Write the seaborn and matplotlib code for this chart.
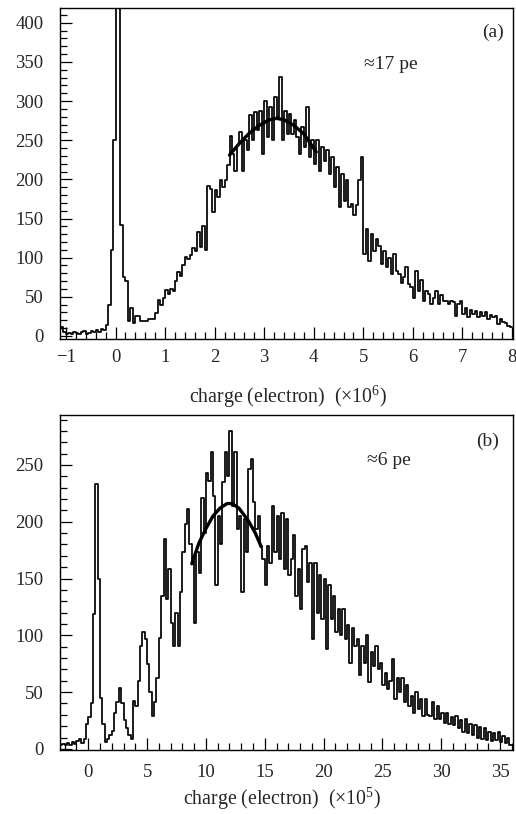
import numpy as np
import pandas as pd
import matplotlib.pyplot as plt
import seaborn as sns
from matplotlib.ticker import MultipleLocator

# ---- panel (a): charge spectrum, x in units of 1e6 electrons, 0.05 bins from -1.1
a_start, a_width = -1.1, 0.05
a_counts = [
    12, 5, 3, 4, 3, 5, 4, 3, 5, 6, 3, 4, 6, 5, 7, 5, 9, 8, 14, 40,
    110, 250, 1500, 1500, 142, 75, 70, 19, 36, 17, 25, 25, 19, 19, 19, 21, 21, 21, 29, 46,
    40, 48, 59, 53, 60, 58, 70, 82, 76, 90, 101, 98, 104, 112, 108, 133, 114, 140, 110, 192,
    188, 158, 186, 178, 199, 190, 199, 218, 256, 233, 211, 244, 260, 211, 250, 238, 282, 250, 286, 263,
    288, 233, 300, 254, 293, 250, 305, 280, 331, 250, 288, 258, 284, 258, 276, 254, 233, 267, 241, 293,
    229, 250, 220, 250, 211, 241, 224, 237, 207, 229, 190, 216, 165, 207, 173, 199, 165, 169, 154, 167,
    199, 229, 105, 137, 96, 130, 109, 124, 115, 92, 109, 88, 100, 79, 105, 83, 79, 68, 75, 88,
    66, 62, 49, 83, 58, 72, 45, 58, 53, 41, 48, 58, 41, 52, 45, 44, 41, 45, 43, 26,
    41, 45, 28, 36, 24, 33, 28, 32, 24, 30, 26, 30, 21, 27, 24, 26, 15, 22, 18, 17,
    13, 11,
]
a_fit_x = [2.3, 2.5, 2.7, 2.9, 3.1, 3.25, 3.4, 3.6, 3.8, 4.05]
a_fit_y = [231, 246, 259, 269, 276, 278, 276, 269, 258, 235]

# ---- panel (b): x in units of 1e5 electrons, 0.2 bins from -2.4
b_start, b_width = -2.4, 0.2
b_counts = [
    3, 4, 3, 5, 3, 6, 4, 7, 9, 5,
    9, 22, 28, 40, 119, 233, 150, 45, 22, 6,
    9, 12, 16, 32, 41, 54, 40, 25, 18, 12,
    9, 42, 38, 60, 91, 103, 97, 75, 50, 29,
    41, 62, 98, 135, 185, 132, 158, 111, 91, 120,
    91, 138, 173, 198, 211, 180, 165, 111, 173, 155,
    221, 190, 243, 236, 261, 223, 144, 205, 180, 235,
    261, 240, 280, 214, 261, 194, 205, 138, 202, 173,
    246, 255, 217, 194, 205, 179, 167, 144, 179, 164,
    214, 173, 205, 167, 208, 158, 202, 153, 167, 188,
    135, 158, 123, 176, 179, 147, 164, 97, 164, 120,
    153, 114, 150, 88, 144, 114, 135, 103, 123, 100,
    123, 97, 109, 76, 106, 91, 97, 65, 91, 76,
    100, 59, 85, 73, 91, 70, 76, 56, 67, 53,
    60, 79, 44, 62, 50, 62, 41, 56, 38, 47,
    32, 50, 35, 44, 29, 44, 30, 29, 41, 26,
    38, 26, 32, 23, 32, 22, 28, 21, 29, 18,
    25, 15, 26, 14, 22, 12, 21, 10, 19, 9,
    18, 8, 15, 7, 14, 8, 15, 6, 11, 5,
    10, 3,
]
b_fit_x = [8.8, 9.4, 10.0, 10.6, 11.2, 11.8, 12.2, 12.8, 13.6, 14.2, 14.7]
b_fit_y = [163, 181, 194, 205, 212, 216, 216, 212, 201, 190, 178]

sns.set_style('ticks')
plt.rcParams['font.family'] = ['Liberation Serif', 'DejaVu Serif']
plt.rcParams['mathtext.fontset'] = 'custom'
plt.rcParams['mathtext.rm'] = 'Liberation Serif'
plt.rcParams['axes.linewidth'] = 1.0

fig = plt.figure(figsize=(5.16, 8.14), dpi=100)
ax_a = fig.add_axes([0.1163, 0.5835, 0.8779, 0.4067])
ax_b = fig.add_axes([0.1163, 0.0786, 0.8779, 0.4116])


def draw_panel(ax, start, width, counts, fit_x, fit_y, xpad):
    edges = start + width * np.arange(len(counts) + 1)
    df = pd.DataFrame({'charge': edges[:-1] + width / 2, 'n': counts})
    sns.histplot(data=df, x='charge', weights='n', bins=list(edges), element='step',
                 fill=False, color='black', linewidth=1.25, ax=ax)
    sns.lineplot(x=fit_x, y=fit_y, color='black', linewidth=2.4, ax=ax)
    ax.set_ylabel('')
    ax.tick_params(which='both', direction='in', top=False, right=False,
                   labelsize=13.5, color='black')
    ax.tick_params(which='major', length=8.5, width=0.9)
    ax.tick_params(which='minor', length=5, width=0.9)
    ax.tick_params(axis='y', pad=12)
    ax.tick_params(axis='x', pad=xpad)
    for s in ax.spines.values():
        s.set_visible(True)
        s.set_color('black')


draw_panel(ax_a, a_start, a_width, a_counts, a_fit_x, a_fit_y, 7)
ax_a.set_xlim(-1.12, 8.02)
ax_a.set_ylim(-4, 419)
ax_a.xaxis.set_major_locator(MultipleLocator(1))
ax_a.xaxis.set_minor_locator(MultipleLocator(0.2))
ax_a.yaxis.set_major_locator(MultipleLocator(50))
ax_a.yaxis.set_minor_locator(MultipleLocator(10))
ax_a.set_xlabel('charge (electron)  (×10$^{6}$)', fontsize=14.3)
ax_a.xaxis.set_label_coords(0.503, -0.134)
ax_a.text(0.98, 0.925, '(a)', transform=ax_a.transAxes, ha='right', va='center', fontsize=14)
ax_a.text(0.73, 0.83, '≈17 pe', transform=ax_a.transAxes, ha='center', va='center', fontsize=14)

draw_panel(ax_b, b_start, b_width, b_counts, b_fit_x, b_fit_y, 10)
ax_b.set_xlim(-2.4, 36.1)
ax_b.set_ylim(-1, 294)
ax_b.xaxis.set_major_locator(MultipleLocator(5))
ax_b.xaxis.set_minor_locator(MultipleLocator(1))
ax_b.yaxis.set_major_locator(MultipleLocator(50))
ax_b.yaxis.set_minor_locator(MultipleLocator(10))
ax_b.set_xlabel('charge (electron)  (×10$^{5}$)', fontsize=14.3)
ax_b.xaxis.set_label_coords(0.49, -0.106)
ax_b.text(0.97, 0.92, '(b)', transform=ax_b.transAxes, ha='right', va='center', fontsize=14)
ax_b.text(0.725, 0.865, '≈6 pe', transform=ax_b.transAxes, ha='center', va='center', fontsize=14)

fig.savefig('out.png', dpi=100)
